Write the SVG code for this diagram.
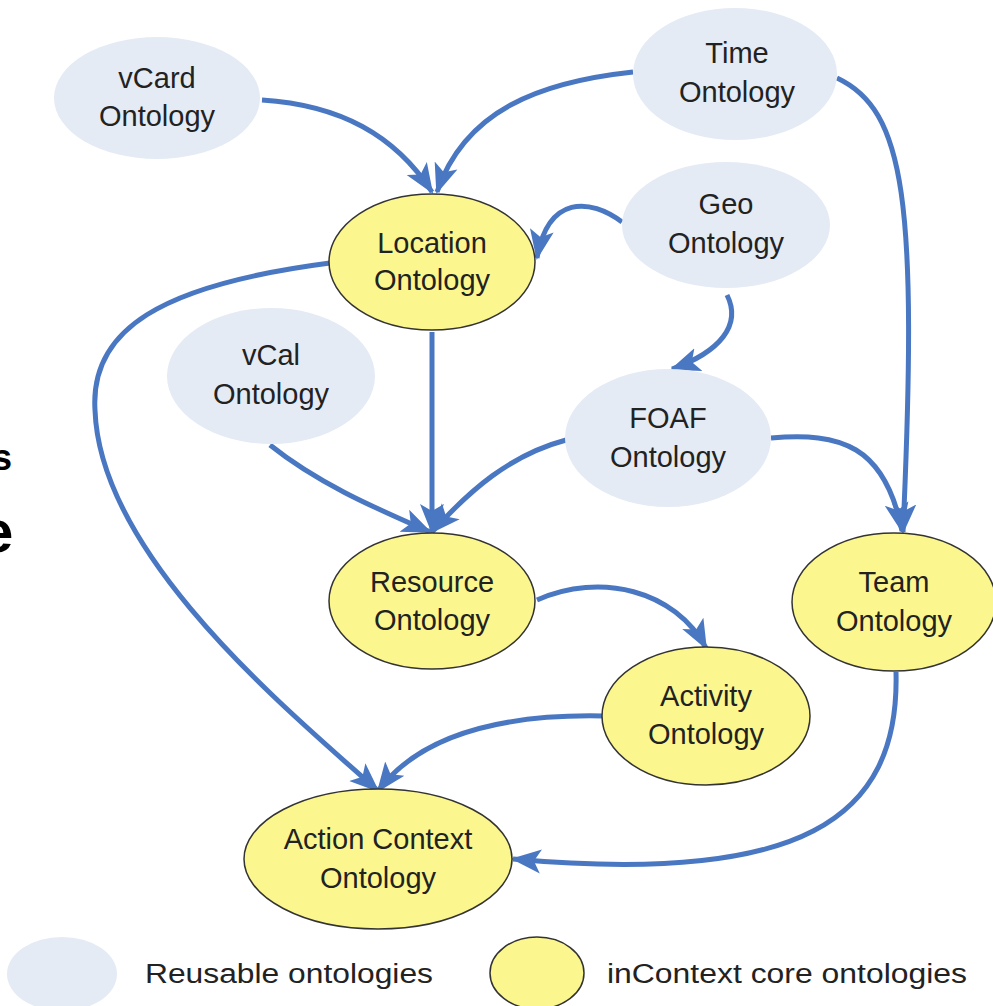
<svg xmlns="http://www.w3.org/2000/svg" width="993" height="1006" viewBox="0 0 993 1006">
<style>
.reuse{fill:#e4ebf5;stroke:none}
.core{fill:#fbf78e;stroke:#333;stroke-width:1.5}
.lbl{font-family:"Liberation Sans",Arial,sans-serif;font-size:29px;fill:#222;text-anchor:middle}
.leg{font-family:"Liberation Sans",Arial,sans-serif;font-size:27px;fill:#222}
.edge{fill:none;stroke:#4a77c2;stroke-width:5}
</style>
<defs>
<marker id="ah" markerUnits="userSpaceOnUse" markerWidth="30" markerHeight="30" viewBox="0 0 30 30" refX="28" refY="15" orient="auto">
<path d="M0,3 L30,15 L0,27 L7,15 Z" fill="#4a77c2"/>
</marker>
</defs>
<rect width="993" height="1006" fill="#fff"/>
<text x="-8" y="470" font-family="Liberation Sans,Arial,sans-serif" font-size="36" font-weight="bold" fill="#000">s</text>
<text x="-20" y="552" font-family="Liberation Sans,Arial,sans-serif" font-size="60" font-weight="bold" fill="#000">e</text>
<g id="connectors">
<path class="edge" marker-end="url(#ah)" d="M262,100 C340,105 395,135 432,192"/>
<path class="edge" marker-end="url(#ah)" d="M633,72 C540,82 465,110 437,192"/>
<path class="edge" marker-end="url(#ah)" d="M837,78 C905,110 918,200 903,532"/>
<path class="edge" marker-end="url(#ah)" d="M622,222 C590,198 548,195 537,258"/>
<path class="edge" marker-end="url(#ah)" d="M727,295 C742,325 720,352 672,369"/>
<path class="edge" marker-end="url(#ah)" d="M432,332 L432,532"/>
<path class="edge" marker-end="url(#ah)" d="M270,445 C320,485 380,510 430,532"/>
<path class="edge" marker-end="url(#ah)" d="M566,440 C510,455 470,490 432,532"/>
<path class="edge" marker-end="url(#ah)" d="M771,438 C840,432 885,445 902,531"/>
<path class="edge" marker-end="url(#ah)" d="M330,263 C160,285 90,330 95,410 C100,560 300,720 378,791"/>
<path class="edge" marker-end="url(#ah)" d="M537,600 C600,572 675,590 706,648"/>
<path class="edge" marker-end="url(#ah)" d="M603,716 C500,714 420,735 378,791"/>
<path class="edge" marker-end="url(#ah)" d="M896,672 C900,820 800,885 513,859"/>
</g>
<g id="vcard"><ellipse class="reuse" cx="157" cy="98" rx="103" ry="61"/><text class="lbl" x="157" y="88">vCard</text><text class="lbl" x="157" y="126">Ontology</text></g>
<g id="time"><ellipse class="reuse" cx="735" cy="74" rx="102" ry="66"/><text class="lbl" x="737" y="63">Time</text><text class="lbl" x="737" y="102">Ontology</text></g>
<g id="geo"><ellipse class="reuse" cx="726" cy="225" rx="104" ry="63"/><text class="lbl" x="726" y="214">Geo</text><text class="lbl" x="726" y="253">Ontology</text></g>
<g id="location"><ellipse class="core" cx="432" cy="262" rx="103" ry="68"/><text class="lbl" x="432" y="253">Location</text><text class="lbl" x="432" y="290">Ontology</text></g>
<g id="vcal"><ellipse class="reuse" cx="271" cy="376" rx="104" ry="68"/><text class="lbl" x="271" y="365">vCal</text><text class="lbl" x="271" y="404">Ontology</text></g>
<g id="foaf"><ellipse class="reuse" cx="668" cy="438" rx="103" ry="69"/><text class="lbl" x="668" y="428">FOAF</text><text class="lbl" x="668" y="467">Ontology</text></g>
<g id="resource"><ellipse class="core" cx="432" cy="601" rx="103" ry="68"/><text class="lbl" x="432" y="592">Resource</text><text class="lbl" x="432" y="630">Ontology</text></g>
<g id="team"><ellipse class="core" cx="894" cy="602" rx="102" ry="69"/><text class="lbl" x="894" y="592">Team</text><text class="lbl" x="894" y="631">Ontology</text></g>
<g id="activity"><ellipse class="core" cx="706" cy="716" rx="104" ry="69"/><text class="lbl" x="706" y="706">Activity</text><text class="lbl" x="706" y="744">Ontology</text></g>
<g id="actioncontext"><ellipse class="core" cx="378" cy="859" rx="134" ry="70"/><text class="lbl" x="378" y="849">Action Context</text><text class="lbl" x="378" y="888">Ontology</text></g>
<g id="legend">
<ellipse class="reuse" cx="62" cy="974" rx="55" ry="37"/>
<text class="leg" x="145" y="983" textLength="288" lengthAdjust="spacingAndGlyphs">Reusable ontologies</text>
<ellipse class="core" cx="537" cy="973" rx="47" ry="36"/>
<text class="leg" x="607" y="983" textLength="360" lengthAdjust="spacingAndGlyphs">inContext core ontologies</text>
</g>
</svg>
